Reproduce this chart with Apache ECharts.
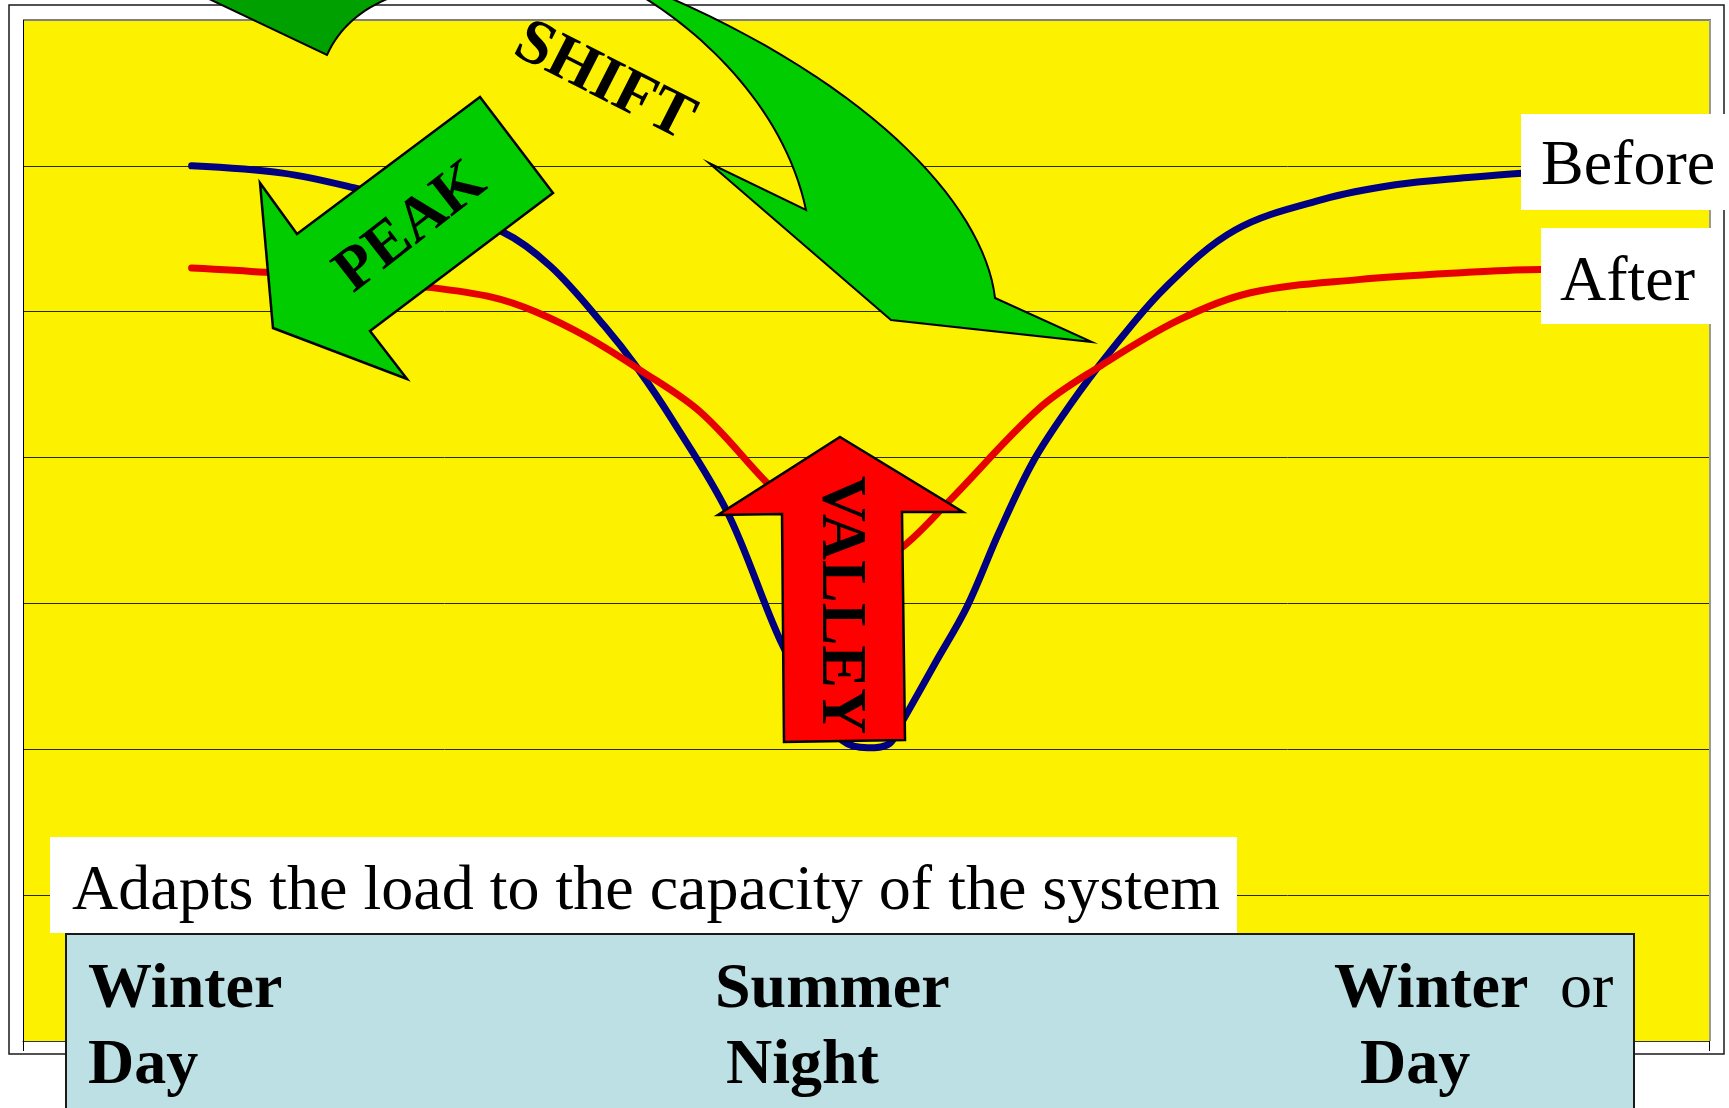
<!DOCTYPE html>
<html><head><meta charset="utf-8">
<script src="https://cdn.jsdelivr.net/npm/echarts@6/dist/echarts.min.js"></script>
<style>html,body{margin:0;padding:0;background:#fff;}#c{width:1729px;height:1108px;}</style>
</head><body><div id="c"></div>
<script>
// ---- data ----
const seriesNames = ['Before', 'After'];
const beforeX = [10.0, 15.4, 19.6, 24.1, 28.4, 31.3, 34.5, 36.4, 38.5, 41.8, 44.9, 47.0, 48.6, 50.1, 51.4, 52.2, 54.1, 56.0, 57.9, 59.9, 62.1, 64.3, 67.7, 71.9, 77.1, 81.4, 85.7, 88.9, 91.2];
const beforeY = [6.00, 5.95, 5.85, 5.71, 5.55, 5.31, 4.90, 4.62, 4.26, 3.62, 2.75, 2.30, 2.06, 2.01, 2.04, 2.20, 2.59, 2.98, 3.49, 3.97, 4.36, 4.70, 5.16, 5.56, 5.77, 5.87, 5.92, 5.95, 5.96];
const afterX = [10.0, 14.4, 19.4, 23.9, 27.8, 30.4, 33.4, 36.6, 40.2, 44.1, 47.3, 48.5, 50.2, 52.2, 55.0, 60.3, 63.8, 68.5, 72.8, 79.2, 85.7, 90.0, 92.3];
const afterY = [5.30, 5.27, 5.22, 5.17, 5.10, 5.00, 4.83, 4.60, 4.31, 3.83, 3.47, 3.36, 3.26, 3.39, 3.71, 4.34, 4.62, 4.94, 5.13, 5.22, 5.27, 5.29, 5.29];
const periodLabels = [['Winter', 'Day'], ['Summer', 'Night'], ['Winter', 'Day']];
const periodExtra = ['', '', 'or'];
const caption = 'Adapts the load to the capacity of the system';
const arrowLabels = ['PEAK', 'SHIFT', 'VALLEY'];

const SERIF = '"Liberation Serif", "Times New Roman", serif';
const zip = (xs, ys) => xs.map((x, i) => [x, ys[i]]);

function cubic(p0, p1, p2, p3, n) {
  const out = [];
  for (let i = 0; i <= n; i++) {
    const t = i / n, u = 1 - t;
    out.push([u*u*u*p0[0] + 3*u*u*t*p1[0] + 3*u*t*t*p2[0] + t*t*t*p3[0],
              u*u*u*p0[1] + 3*u*u*t*p1[1] + 3*u*t*t*p2[1] + t*t*t*p3[1]]);
  }
  return out;
}
function quad(p0, p1, p2, n) {
  const out = [];
  for (let i = 0; i <= n; i++) {
    const t = i / n, u = 1 - t;
    out.push([u*u*p0[0] + 2*u*t*p1[0] + t*t*p2[0], u*u*p0[1] + 2*u*t*p1[1] + t*t*p2[1]]);
  }
  return out;
}

const chart = echarts.init(document.getElementById('c'), null, {renderer: 'canvas'});

const txt = (t, x, y, font, rot, align, z) => ({type: 'text', x: x, y: y, rotation: rot || 0, z: z || 21,
  style: {text: t, font: font, fill: '#000', align: align || 'center', verticalAlign: 'middle', textAlign: align || 'center', textVerticalAlign: 'middle'}});

const periodX = [[88, 88], [715, 726], [1334, 1360]];
const periodText = [];
periodLabels.forEach((p, i) => {
  periodText.push(txt(p[0], periodX[i][0], 990, 'bold 64px ' + SERIF, 0, 'left', 31));
  periodText.push(txt(p[1], periodX[i][1], 1066, 'bold 64px ' + SERIF, 0, 'left', 31));
  if (periodExtra[i]) periodText.push(txt(periodExtra[i], 1560, 990, '64px ' + SERIF, 0, 'left', 31));
});

const darkTail = [[205, -3], [327, 55]].concat(quad([327, 55], [345, 15], [392, -3], 16));
const shiftArrow = cubic([643, -3], [705, 35], [785, 110], [806, 210], 30)
  .concat([[709, 163], [891, 320], [1092, 342], [995, 298]])
  .concat(cubic([995, 298], [985, 210], [880, 90], [668, -3], 30).slice(1));

const option = {
  animation: false,
  backgroundColor: '#ffffff',
  grid: {left: 23, top: 20, width: 1686, height: 1021, show: true, backgroundColor: '#FCF200', borderWidth: 0},
  xAxis: {type: 'value', min: 0, max: 100,
    axisLine: {show: true, lineStyle: {color: '#333', width: 1}}, axisTick: {show: false}, axisLabel: {show: false}, splitLine: {show: false}},
  yAxis: {type: 'value', min: 0, max: 7, interval: 1,
    axisLine: {show: true, lineStyle: {color: '#000', width: 1}}, axisTick: {show: false}, axisLabel: {show: false},
    splitLine: {show: true, lineStyle: {color: '#2a2a00', width: 1}}},
  series: [
    {name: seriesNames[0], type: 'line', smooth: 0.35, showSymbol: false, symbol: 'none', z: 3,
      lineStyle: {color: '#000080', width: 7, cap: 'round', join: 'round'}, data: zip(beforeX, beforeY)},
    {name: seriesNames[1], type: 'line', smooth: 0.35, showSymbol: false, symbol: 'none', z: 3,
      lineStyle: {color: '#E60000', width: 7, cap: 'round', join: 'round'}, data: zip(afterX, afterY)}
  ],
  graphic: [
    {type: 'rect', z: 1, shape: {x: 9, y: 5, width: 1715, height: 1049}, style: {fill: 'none', stroke: '#1a1a1a', lineWidth: 1.5}},
    {type: 'line', z: 5, shape: {x1: 23, y1: 20, x2: 1711, y2: 20}, style: {stroke: '#808080', lineWidth: 2}},
    {type: 'line', z: 5, shape: {x1: 1710, y1: 20, x2: 1710, y2: 1041}, style: {stroke: '#9a9a9a', lineWidth: 2}},
    {type: 'line', z: 5, shape: {x1: 23.5, y1: 20, x2: 23.5, y2: 1051}, style: {stroke: '#000', lineWidth: 1}},
    {type: 'line', z: 5, shape: {x1: 1709.5, y1: 1041, x2: 1709.5, y2: 1051}, style: {stroke: '#000', lineWidth: 1}},
    {type: 'polygon', z: 20, shape: {points: darkTail}, style: {fill: '#00A000', stroke: '#000', lineWidth: 2}},
    {type: 'polygon', z: 20, shape: {points: shiftArrow}, style: {fill: '#00CC00', stroke: '#000', lineWidth: 2}},
    {type: 'polygon', z: 20, shape: {points: [[480, 97], [553, 193], [370, 331], [407, 379], [273, 328], [260, 183], [297, 234]]},
      style: {fill: '#00CC00', stroke: '#000', lineWidth: 2.5}},
    {type: 'polygon', z: 20, shape: {points: [[840, 437], [963, 512], [902, 512], [905, 740], [784, 742], [782, 514], [718, 515]]},
      style: {fill: '#FF0000', stroke: '#000', lineWidth: 2.5}},
    txt(arrowLabels[0], 411, 228, 'bold 62px ' + SERIF, 38 * Math.PI / 180),
    txt(arrowLabels[1], 604, 82, 'bold 64px ' + SERIF, -27 * Math.PI / 180),
    txt(arrowLabels[2], 840, 605, 'bold 64px ' + SERIF, -Math.PI / 2),
    {type: 'rect', z: 25, shape: {x: 1521, y: 114, width: 206, height: 96}, style: {fill: '#fff'}},
    {type: 'rect', z: 25, shape: {x: 1541, y: 228, width: 172, height: 96}, style: {fill: '#fff'}},
    txt(seriesNames[0], 1541, 167, '64px ' + SERIF, 0, 'left', 26),
    txt(seriesNames[1], 1560, 283, '64px ' + SERIF, 0, 'left', 26),
    {type: 'rect', z: 25, shape: {x: 50, y: 837, width: 1187, height: 96}, style: {fill: '#fff'}},
    txt(caption, 72, 892, '64px ' + SERIF, 0, 'left', 26),
    {type: 'rect', z: 30, shape: {x: 66, y: 934, width: 1568, height: 190}, style: {fill: '#BCE0E3', stroke: '#1a1a1a', lineWidth: 2}}
  ].concat(periodText)
};
chart.setOption(option);
</script>
</body></html>
